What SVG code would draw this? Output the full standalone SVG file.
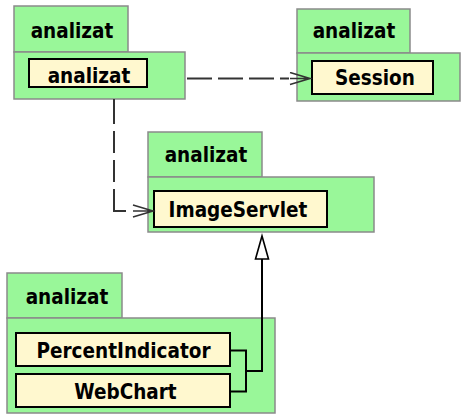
<svg xmlns="http://www.w3.org/2000/svg" width="461" height="415" viewBox="0 0 461 415">
  <style>
    .pkg { fill: #99f799; stroke: #8a8a8a; stroke-width: 1.5; }
    .cls { fill: #fff8cf; stroke: #000; stroke-width: 2; }
    .t { font-family: "DejaVu Sans Condensed", "DejaVu Sans", Verdana, sans-serif; font-stretch: condensed; font-weight: bold; font-size: 20.5px; fill: #000; text-anchor: middle; }
    .dep { fill: none; stroke: #333; stroke-width: 2; }
    .gen { fill: none; stroke: #000; stroke-width: 2; }
  </style>
  <defs>
    <marker id="open" markerUnits="userSpaceOnUse" markerWidth="24" markerHeight="16" refX="21" refY="7" orient="auto">
      <path d="M1,1 L21,7 L1,13 M1,7 L21,7" fill="none" stroke="#333" stroke-width="1.6"/>
    </marker>
    <marker id="hollow" markerUnits="userSpaceOnUse" markerWidth="28" markerHeight="18" refX="24" refY="8" orient="auto">
      <path d="M1,1.5 L24,8 L1,14.5 Z" fill="#fff" stroke="#000" stroke-width="1.6"/>
    </marker>
  </defs>

  <g id="pkg-analizat">
    <rect class="pkg" x="14" y="6" width="114" height="46"/>
    <rect class="pkg" x="14" y="52" width="171" height="47"/>
    <text class="t" x="72" y="37.5">analizat</text>
    <rect class="cls" x="29" y="59" width="118" height="28"/>
    <text class="t" x="89" y="83">analizat</text>
  </g>

  <g id="pkg-session">
    <rect class="pkg" x="297" y="9" width="113" height="44"/>
    <rect class="pkg" x="297" y="53" width="163" height="48"/>
    <text class="t" x="354" y="38">analizat</text>
    <rect class="cls" x="312" y="61" width="121" height="33"/>
    <text class="t" x="375" y="85">Session</text>
  </g>

  <g id="pkg-imageservlet">
    <rect class="pkg" x="148" y="132" width="114" height="45"/>
    <rect class="pkg" x="148" y="177" width="226" height="55"/>
    <text class="t" x="206" y="161.5">analizat</text>
    <rect class="cls" x="154" y="191" width="173" height="36"/>
    <text class="t" x="238" y="216.5">ImageServlet</text>
  </g>

  <g id="pkg-charts">
    <rect class="pkg" x="7" y="273" width="115" height="45"/>
    <rect class="pkg" x="7" y="318" width="268" height="95"/>
    <text class="t" x="67" y="304">analizat</text>
    <rect class="cls" x="16" y="333" width="214" height="33"/>
    <text class="t" x="123.5" y="358.3">PercentIndicator</text>
    <rect class="cls" x="16" y="374" width="214" height="33"/>
    <text class="t" x="125.5" y="399.3">WebChart</text>
  </g>

  <g id="connectors">
    <path class="dep" stroke-dasharray="25 6" d="M187,78.5 L289,78.5"/>
    <path d="M289,78.5 L310,78.5" stroke="none" fill="none" marker-end="url(#open)"/>
    <path class="dep" stroke-dasharray="25 7 22 7 22 7 34 100" d="M114,99 L114,211 L126,211"/>
    <path d="M130,211 L153,211" stroke="none" fill="none" marker-end="url(#open)"/>
    <path class="gen" d="M230,350.5 L246,350.5 L246,391.5 L230,391.5 M246,371 L262,371 L262,259"/>
    <path d="M262,259 L262,236" stroke="none" fill="none" marker-end="url(#hollow)"/>
  </g>
</svg>
